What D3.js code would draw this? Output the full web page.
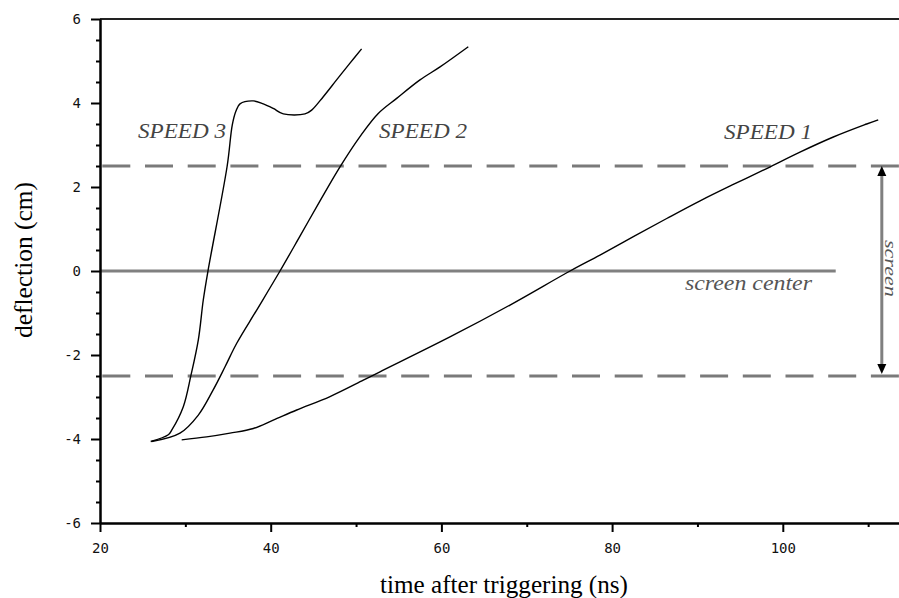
<!DOCTYPE html>
<html><head><meta charset="utf-8">
<script src="https://cdn.jsdelivr.net/npm/d3@7/dist/d3.min.js"></script>
<style>body{margin:0;background:#fff}svg{display:block}</style>
</head><body>
<svg id="c" width="899" height="598"></svg>
<script>
// ---- data ----
const speed3X = [25.94, 28.0, 28.4, 29.76, 30.66, 31.52, 32.1, 32.65, 34.9, 35.5, 35.93, 36.4, 37.96, 39.13, 40.3, 41.48, 44.02, 44.8, 46.16, 47.72, 49.29, 50.65];
const speed3Y = [-4.06, -3.90, -3.79, -3.23, -2.48, -1.64, -0.69, 0.0, 2.5, 3.48, 3.81, 3.98, 4.05, 3.98, 3.87, 3.74, 3.74, 3.83, 4.15, 4.55, 4.95, 5.29];
const speed2X = [26.05, 29.37, 31.52, 33.26, 34.65, 36.02, 38.36, 41.09, 43.43, 45.78, 48.12, 50.46, 52.6, 54.76, 57.49, 59.84, 63.15];
const speed2Y = [-4.06, -3.86, -3.43, -2.83, -2.28, -1.72, -0.93, 0.0, 0.83, 1.67, 2.48, 3.20, 3.75, 4.11, 4.55, 4.86, 5.34];
const speed1X = [29.57, 32.49, 35.23, 37.96, 40.3, 43.05, 46.95, 50.85, 52.8, 61.0, 68.04, 75.07, 78.58, 82.49, 86.4, 90.31, 94.2, 98.11, 102.01, 105.92, 109.83, 111.18];
const speed1Y = [-4.02, -3.95, -3.86, -3.75, -3.55, -3.31, -2.99, -2.6, -2.4, -1.57, -0.81, 0.0, 0.38, 0.82, 1.25, 1.67, 2.06, 2.44, 2.83, 3.19, 3.50, 3.60];
const seriesNames = ["SPEED 3", "SPEED 2", "SPEED 1"];
const screenEdges = [2.5, -2.5];
const screenCenter = 0;
const screenCenterEnd = 106.2;
const screenArrowX = 111.6;
const xMajorTicks = [20, 40, 60, 80, 100];
const xMinorTicks = [30, 50, 70, 90, 110];
const yMajorTicks = [-6, -4, -2, 0, 2, 4, 6];
const yMinorTicks = [-5.5, -5, -4.5, -3.5, -3, -2.5, -1.5, -1, -0.5, 0.5, 1, 1.5, 2.5, 3, 3.5, 4.5, 5, 5.5];
const xTitle = "time after triggering (ns)";
const yTitle = "deflection (cm)";
const centerLabel = "screen center";
const screenLabel = "screen";

// ---- chart ----
const svg = d3.select("#c");
svg.append("rect").attr("width", 899).attr("height", 598).attr("fill", "#fff");
const x = d3.scaleLinear().domain([20, 120]).range([100, 953.5]);
const y = d3.scaleLinear().domain([-6, 6]).range([523, 19]);

const tickFont = "'DejaVu Sans Mono', monospace";
const serif = "'Liberation Serif', 'Times New Roman', serif";
const fmt = d => String(d);

// top frame line
svg.append("line").attr("x1", x(20)).attr("x2", x(120)).attr("y1", y(6)).attr("y2", y(6))
  .attr("stroke", "#222").attr("stroke-width", 2);

// reference lines
screenEdges.forEach(v => {
  svg.append("line").attr("x1", x(20)).attr("x2", x(120)).attr("y1", y(v)).attr("y2", y(v))
    .attr("stroke", "#7a7a7a").attr("stroke-width", 3)
    .attr("stroke-dasharray", "28,14.7").attr("stroke-dashoffset", 40.4);
});
svg.append("line").attr("x1", x(20)).attr("x2", x(screenCenterEnd)).attr("y1", y(screenCenter)).attr("y2", y(screenCenter))
  .attr("stroke", "#808080").attr("stroke-width", 3);

// arrow
const ax = x(screenArrowX);
svg.append("line").attr("x1", ax).attr("x2", ax).attr("y1", y(2.5) + 6).attr("y2", y(-2.5) - 8)
  .attr("stroke", "#808080").attr("stroke-width", 3);
svg.append("path").attr("d", `M${ax},${y(2.5)} L${ax-4.5},${y(2.5)+10} L${ax+4.5},${y(2.5)+10} Z`).attr("fill", "#000");
svg.append("path").attr("d", `M${ax},${y(-2.5)-2} L${ax-4.5},${y(-2.5)-12} L${ax+4.5},${y(-2.5)-12} Z`).attr("fill", "#000");

// curves
const line = d3.line().x(d => x(d[0])).y(d => y(d[1])).curve(d3.curveCatmullRom.alpha(0.5));
[[speed3X, speed3Y], [speed2X, speed2Y], [speed1X, speed1Y]].forEach(([xs, ys]) => {
  svg.append("path").datum(xs.map((v, i) => [v, ys[i]])).attr("d", line)
    .attr("fill", "none").attr("stroke", "#000").attr("stroke-width", 1.4);
});

// axes
function styleAxis(g) {
  g.selectAll("path.domain").attr("stroke", "#000").attr("stroke-width", 2);
  g.selectAll(".tick line").attr("stroke", "#000").attr("stroke-width", 2);
  g.selectAll(".tick text").attr("font-family", tickFont).attr("font-size", 14).attr("fill", "#111");
}
const gx = svg.append("g").attr("transform", `translate(0,${y(-6)})`)
  .call(d3.axisBottom(x).tickValues(xMajorTicks).tickSize(9).tickSizeOuter(0).tickPadding(11).tickFormat(fmt));
styleAxis(gx);
const gxm = svg.append("g").attr("transform", `translate(0,${y(-6)})`)
  .call(d3.axisBottom(x).tickValues(xMinorTicks).tickSize(4).tickSizeOuter(0).tickFormat(""));
styleAxis(gxm);
const gy = svg.append("g").attr("transform", `translate(${x(20)},0)`)
  .call(d3.axisLeft(y).tickValues(yMajorTicks).tickSize(9).tickSizeOuter(0).tickPadding(10).tickFormat(fmt));
styleAxis(gy);
const gym = svg.append("g").attr("transform", `translate(${x(20)},0)`)
  .call(d3.axisLeft(y).tickValues(yMinorTicks).tickSize(4).tickSizeOuter(0).tickFormat(""));
styleAxis(gym);

// series labels
const labelPos = [[24.45, 3.17], [52.69, 3.17], [93.11, 3.14]];
seriesNames.forEach((t, i) => {
  svg.append("text").attr("x", x(labelPos[i][0])).attr("y", y(labelPos[i][1]))
    .attr("font-family", serif).attr("font-style", "italic").attr("font-size", 22)
    .attr("fill", "#444").attr("textLength", 88).attr("lengthAdjust", "spacingAndGlyphs").text(t);
});
svg.append("text").attr("x", x(88.54)).attr("y", y(-0.45))
  .attr("font-family", serif).attr("font-style", "italic").attr("font-size", 21)
  .attr("fill", "#555").attr("textLength", 127).attr("lengthAdjust", "spacingAndGlyphs").text(centerLabel);
svg.append("text").attr("transform", `translate(${x(111.95)},${y(0.74)}) rotate(90)`)
  .attr("font-family", serif).attr("font-style", "italic").attr("font-size", 17)
  .attr("fill", "#555").attr("textLength", 57).attr("lengthAdjust", "spacingAndGlyphs").text(screenLabel);

// axis titles
svg.append("text").attr("x", 380).attr("y", 593)
  .attr("font-family", serif).attr("font-size", 25).attr("fill", "#000")
  .attr("textLength", 248).attr("lengthAdjust", "spacingAndGlyphs").text(xTitle);
svg.append("text").attr("transform", `translate(32,${(y(6)+y(-6))/2 - 11}) rotate(-90)`)
  .attr("text-anchor", "middle")
  .attr("font-family", serif).attr("font-size", 25).attr("fill", "#000")
  .attr("textLength", 156).attr("lengthAdjust", "spacingAndGlyphs").text(yTitle);
</script>
</body></html>
